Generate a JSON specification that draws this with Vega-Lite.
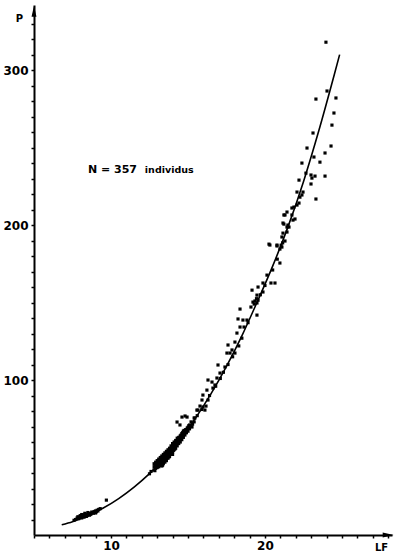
{
  "$schema": "https://vega.github.io/schema/vega-lite/v6.json",
  "width": 358,
  "height": 530,
  "autosize": {"type": "none"},
  "padding": {"left": 34, "top": 5, "right": 8, "bottom": 17},
  "background": "white",
  "config": {"view": {"stroke": null}, "font": "DejaVu Sans"},
  "datasets": {
    "pts": [
      {"LF":7.6,"P":9.5},{"LF":7.7,"P":10},{"LF":7.8,"P":11},{"LF":7.9,"P":10.5},{"LF":8.0,"P":11.5},{"LF":8.0,"P":12.5},{"LF":8.1,"P":11},{"LF":8.2,"P":12},{"LF":8.2,"P":13},{"LF":8.3,"P":12.5},{"LF":8.4,"P":13.5},{"LF":8.4,"P":12},{"LF":8.5,"P":13},{"LF":8.6,"P":14},{"LF":8.6,"P":12.8},{"LF":8.7,"P":13.5},{"LF":8.8,"P":14.5},{"LF":8.9,"P":15},{"LF":9.0,"P":15.5},{"LF":9.0,"P":14.2},{"LF":9.1,"P":16},{"LF":9.2,"P":16.5},{"LF":9.3,"P":17},{"LF":9.7,"P":22.5},
      {"LF":7.85,"P":11.8},{"LF":8.05,"P":12},{"LF":8.15,"P":12.8},{"LF":8.25,"P":11.5},{"LF":8.35,"P":13},{"LF":8.45,"P":12.5},{"LF":8.55,"P":13.8},{"LF":8.65,"P":13.2},{"LF":8.75,"P":14.8},{"LF":8.85,"P":14},{"LF":8.95,"P":15.2},{"LF":9.05,"P":15},{"LF":9.15,"P":15.5},{"LF":8.3,"P":14},{"LF":8.5,"P":14.5},{"LF":8.1,"P":13.2},
      {"LF":12.5,"P":39.5},{"LF":12.6,"P":41},
      {"LF":12.8,"P":42},{"LF":12.8,"P":44},{"LF":12.8,"P":46},
      {"LF":12.9,"P":43},{"LF":12.9,"P":45.5},{"LF":12.9,"P":47},
      {"LF":13.0,"P":43.5},{"LF":13.0,"P":45},{"LF":13.0,"P":46.5},{"LF":13.0,"P":48},
      {"LF":13.1,"P":44},{"LF":13.1,"P":46},{"LF":13.1,"P":47.5},{"LF":13.1,"P":49},
      {"LF":13.2,"P":45},{"LF":13.2,"P":46.5},{"LF":13.2,"P":48},{"LF":13.2,"P":50},
      {"LF":13.3,"P":44.5},{"LF":13.3,"P":46},{"LF":13.3,"P":47.5},{"LF":13.3,"P":49},{"LF":13.3,"P":51},
      {"LF":13.4,"P":46},{"LF":13.4,"P":47},{"LF":13.4,"P":48.5},{"LF":13.4,"P":50},{"LF":13.4,"P":52},
      {"LF":13.5,"P":47},{"LF":13.5,"P":48},{"LF":13.5,"P":49.5},{"LF":13.5,"P":51},{"LF":13.5,"P":53},
      {"LF":13.6,"P":48},{"LF":13.6,"P":49},{"LF":13.6,"P":51},{"LF":13.6,"P":52.5},{"LF":13.6,"P":54},
      {"LF":13.7,"P":49.5},{"LF":13.7,"P":50},{"LF":13.7,"P":52},{"LF":13.7,"P":53.5},{"LF":13.7,"P":55},
      {"LF":13.8,"P":50.5},{"LF":13.8,"P":51},{"LF":13.8,"P":53},{"LF":13.8,"P":54.5},{"LF":13.8,"P":56},
      {"LF":13.9,"P":52.5},{"LF":13.9,"P":54},{"LF":13.9,"P":56},{"LF":13.9,"P":57.5},
      {"LF":14.0,"P":52},{"LF":14.0,"P":53.5},{"LF":14.0,"P":55.5},{"LF":14.0,"P":57},{"LF":14.0,"P":59},
      {"LF":14.1,"P":55},{"LF":14.1,"P":56.5},{"LF":14.1,"P":58},{"LF":14.1,"P":60},
      {"LF":14.2,"P":56},{"LF":14.2,"P":58},{"LF":14.2,"P":59.5},{"LF":14.2,"P":61},
      {"LF":14.3,"P":57.5},{"LF":14.3,"P":59},{"LF":14.3,"P":61},{"LF":14.3,"P":62.5},
      {"LF":14.4,"P":59},{"LF":14.4,"P":61},{"LF":14.4,"P":63},
      {"LF":14.5,"P":60},{"LF":14.5,"P":62},{"LF":14.5,"P":64},
      {"LF":14.6,"P":61.5},{"LF":14.6,"P":63.5},{"LF":14.6,"P":65.5},
      {"LF":14.7,"P":63},{"LF":14.7,"P":65},{"LF":14.7,"P":67},
      {"LF":14.8,"P":64.5},{"LF":14.8,"P":66.5},
      {"LF":14.9,"P":66},{"LF":14.9,"P":68},
      {"LF":15.0,"P":67},{"LF":15.0,"P":69.5},
      {"LF":15.1,"P":68.5},{"LF":15.1,"P":71},
      {"LF":15.2,"P":70},{"LF":15.2,"P":73},
      {"LF":15.3,"P":71.5},
      {"LF":15.4,"P":73},{"LF":15.4,"P":75.5},
      {"LF":13.35,"P":45},{"LF":13.65,"P":53},{"LF":13.95,"P":55},{"LF":14.05,"P":58},{"LF":13.45,"P":51.5},{"LF":13.25,"P":48.5},{"LF":13.75,"P":51.5},{"LF":14.15,"P":57},
      {"LF":12.85,"P":41.5},{"LF":12.85,"P":44.5},{"LF":12.95,"P":44},{"LF":12.95,"P":46.5},{"LF":13.05,"P":44.5},{"LF":13.05,"P":47},{"LF":13.15,"P":45},{"LF":13.15,"P":48.5},{"LF":13.25,"P":46},{"LF":13.25,"P":50},{"LF":13.35,"P":47.5},{"LF":13.35,"P":49.5},{"LF":13.45,"P":48},{"LF":13.45,"P":49.5},{"LF":13.55,"P":50},{"LF":13.55,"P":52},{"LF":13.65,"P":50.5},{"LF":13.65,"P":51.5},{"LF":13.75,"P":53},{"LF":13.75,"P":54.5},{"LF":13.85,"P":52},{"LF":13.85,"P":55},{"LF":13.95,"P":53.5},{"LF":13.95,"P":57},{"LF":14.05,"P":54.5},{"LF":14.05,"P":56.5},{"LF":14.15,"P":55.5},{"LF":14.15,"P":59.5},{"LF":14.25,"P":58},{"LF":14.25,"P":60},{"LF":14.35,"P":59.5},{"LF":14.35,"P":62},{"LF":14.45,"P":61.5},{"LF":14.45,"P":63},{"LF":14.55,"P":62},{"LF":14.55,"P":64.5},{"LF":14.65,"P":64},{"LF":14.65,"P":66},{"LF":14.75,"P":65.5},{"LF":14.75,"P":67.5},{"LF":14.85,"P":66},{"LF":14.85,"P":68},{"LF":14.95,"P":67.5},{"LF":14.95,"P":69},{"LF":15.05,"P":69},{"LF":15.05,"P":70.5},
      {"LF":14.29,"P":72.9},{"LF":14.61,"P":76.1},{"LF":14.81,"P":76.8},{"LF":14.48,"P":71},{"LF":15.26,"P":69.7},{"LF":15.65,"P":80.6},{"LF":15.97,"P":82.6},
      {"LF":18.18,"P":130.3},{"LF":18.05,"P":124.5},{"LF":17.6,"P":122.6},{"LF":17.86,"P":119.4},{"LF":17.73,"P":117.4},{"LF":17.53,"P":117.4},{"LF":18.05,"P":117.4},{"LF":16.95,"P":109.7},{"LF":17.4,"P":108.4},{"LF":17.08,"P":104.5},{"LF":16.88,"P":101.3},{"LF":16.3,"P":100},{"LF":16.56,"P":98.7},{"LF":16.75,"P":96.8},{"LF":16.23,"P":93.5},{"LF":16.62,"P":94.8},{"LF":15.97,"P":90.3},{"LF":15.91,"P":87.1},{"LF":16.3,"P":87.1},{"LF":15.78,"P":83.2},{"LF":16.17,"P":83.2},{"LF":15.58,"P":80.6},{"LF":16.1,"P":80.6},{"LF":14.94,"P":76.1},{"LF":15.45,"P":75.5},
      {"LF":15.6,"P":77},{"LF":15.9,"P":81},{"LF":16.4,"P":90},{"LF":16.8,"P":96},{"LF":17.1,"P":101},{"LF":17.3,"P":105},{"LF":17.6,"P":110},{"LF":17.9,"P":115},{"LF":18.3,"P":122},{"LF":18.5,"P":127},
      {"LF":20.26,"P":187.7},{"LF":20.78,"P":186.5},{"LF":20.97,"P":175.5},{"LF":20.13,"P":167.7},{"LF":19.87,"P":162.6},{"LF":20.39,"P":162.6},{"LF":20.65,"P":162.6},{"LF":19.55,"P":160},{"LF":19.16,"P":158},{"LF":19.87,"P":156.8},{"LF":19.48,"P":154.8},{"LF":19.22,"P":150.3},{"LF":19.48,"P":149.7},{"LF":19.09,"P":147.1},{"LF":18.38,"P":145.8},{"LF":19.48,"P":141.9},{"LF":18.25,"P":139.4},{"LF":18.57,"P":138.7},{"LF":18.83,"P":138.7},{"LF":18.38,"P":134.2},{"LF":18.64,"P":134.2},
      {"LF":19.35,"P":151},{"LF":19.45,"P":152.5},{"LF":19.3,"P":149},{"LF":19.55,"P":151.5},{"LF":18.9,"P":137},{"LF":19.7,"P":155},{"LF":20.0,"P":161},{"LF":20.5,"P":171},{"LF":20.8,"P":178},
      {"LF":21.3,"P":206.5},{"LF":21.75,"P":206.5},{"LF":21.82,"P":203.2},{"LF":21.23,"P":200.6},{"LF":21.49,"P":200},{"LF":21.43,"P":195.5},{"LF":21.17,"P":194.8},{"LF":21.1,"P":192.3},{"LF":21.3,"P":189.7},{"LF":20.78,"P":187.1},{"LF":20.32,"P":187.1},{"LF":21.1,"P":185.8},{"LF":20.97,"P":184.5},
      {"LF":21.05,"P":187},{"LF":21.15,"P":188.5},
      {"LF":23.96,"P":318},{"LF":24.03,"P":286.5},{"LF":23.31,"P":281.3},{"LF":24.61,"P":282},{"LF":24.48,"P":272.3},{"LF":24.35,"P":264.5},{"LF":23.12,"P":259.4},{"LF":24.29,"P":251},{"LF":22.73,"P":249.7},{"LF":23.9,"P":246.5},{"LF":23.18,"P":243.9},{"LF":23.57,"P":240.6},{"LF":22.4,"P":240},{"LF":22.66,"P":233.5},{"LF":22.99,"P":232.3},{"LF":23.25,"P":231.6},{"LF":23.9,"P":231.6},{"LF":23.05,"P":230.3},{"LF":22.21,"P":229},{"LF":22.99,"P":226.5},{"LF":22.47,"P":221.3},{"LF":22.08,"P":221.3},{"LF":22.4,"P":219.4},{"LF":22.27,"P":218},{"LF":23.31,"P":216.8},{"LF":22.21,"P":214.2},{"LF":22.08,"P":212.9},{"LF":21.88,"P":211.6},{"LF":21.75,"P":211},{"LF":21.43,"P":208.4},{"LF":21.23,"P":206.5},{"LF":21.95,"P":203.9},{"LF":21.17,"P":201.3},{"LF":21.43,"P":198.7},{"LF":21.56,"P":198.7}
    ],
    "curve": [
      {"LF":6.8,"P":6.6},{"LF":7.5,"P":8.6},{"LF":8.5,"P":12.5},{"LF":9.5,"P":17.4},{"LF":10.5,"P":23.5},{"LF":11.5,"P":30.9},{"LF":12.5,"P":39.6},{"LF":13.5,"P":49.9},{"LF":14.5,"P":61.9},{"LF":15.5,"P":75.6},{"LF":16.5,"P":91.2},{"LF":17.5,"P":108.8},{"LF":18.5,"P":128.5},{"LF":19.5,"P":150.5},{"LF":20.5,"P":173.5},{"LF":21.5,"P":199},{"LF":22.5,"P":228},{"LF":23.5,"P":261},{"LF":24.5,"P":297},{"LF":24.85,"P":310}
    ],
    "arrowY": [{"LF":5,"P":338}],
    "arrowX": [{"LF":28.0,"P":0}],
    "noteN": [{"LF":8.5,"P":233.6,"label":"N = 357"}],
    "noteI": [{"LF":12.2,"P":233.6,"label":"individus"}]
  },
  "layer": [
    {
      "data": {"name": "pts"},
      "mark": {"type": "square", "filled": true, "color": "black", "size": 10, "opacity": 1},
      "encoding": {
        "x": {
          "field": "LF", "type": "quantitative",
          "scale": {"domain": [5, 28.25], "nice": false, "zero": false},
          "axis": {
            "values": [5,6,7,8,9,10,11,12,13,14,15,16,17,18,19,20,21,22,23,24,25,26,27,28],
            "tickCount": 100,
            "format": "d",
            "labelExpr": "datum.value == 10 || datum.value == 20 ? datum.label : ''",
            "labelOverlap": false,
            "labelFlush": false,
            "grid": false,
            "domainColor": "black", "domainWidth": 2,
            "tickColor": "black", "tickSize": 3, "tickWidth": 1.5,
            "labelColor": "black", "labelFont": "DejaVu Sans", "labelFontWeight": "bold", "labelFontSize": 12,
            "labelPadding": 2,
            "title": "LF", "titleFont": "DejaVu Sans", "titleFontWeight": "bold", "titleFontSize": 10, "titleColor": "black",
            "titleX": 347, "titleY": 15, "titleAlign": "center", "titleBaseline": "alphabetic"
          }
        },
        "y": {
          "field": "P", "type": "quantitative",
          "scale": {"domain": [0, 342], "nice": false, "zero": false},
          "axis": {
            "values": [10,20,30,40,50,60,70,80,90,100,110,120,130,140,150,160,170,180,190,200,210,220,230,240,250,260,270,280,290,300,310,320,330],
            "tickCount": 100,
            "format": "d",
            "labelExpr": "datum.value % 100 == 0 ? datum.label : ''",
            "labelOverlap": false,
            "labelFlush": false,
            "grid": false,
            "domainColor": "black", "domainWidth": 2,
            "tickColor": "black", "tickSize": 3, "tickWidth": 1.5,
            "labelColor": "black", "labelFont": "DejaVu Sans", "labelFontWeight": "bold", "labelFontSize": 12,
            "labelPadding": 3,
            "title": "P", "titleFont": "DejaVu Sans", "titleFontWeight": "bold", "titleFontSize": 10, "titleColor": "black",
            "titleAngle": 0, "titleX": -15, "titleY": 16, "titleAlign": "center", "titleBaseline": "alphabetic"
          }
        }
      }
    },
    {
      "data": {"name": "curve"},
      "mark": {"type": "line", "color": "black", "strokeWidth": 1.6, "interpolate": "monotone"},
      "encoding": {
        "x": {"field": "LF", "type": "quantitative"},
        "y": {"field": "P", "type": "quantitative"}
      }
    },
    {
      "data": {"name": "arrowY"},
      "mark": {"type": "point", "shape": "M0,-1L0.45,1L-0.45,1Z", "filled": true, "color": "black", "size": 120, "opacity": 1},
      "encoding": {
        "x": {"field": "LF", "type": "quantitative"},
        "y": {"field": "P", "type": "quantitative"}
      }
    },
    {
      "data": {"name": "arrowX"},
      "mark": {"type": "point", "shape": "M1,0L-1,-0.45L-1,0.45Z", "filled": true, "color": "black", "size": 120, "opacity": 1},
      "encoding": {
        "x": {"field": "LF", "type": "quantitative"},
        "y": {"field": "P", "type": "quantitative"}
      }
    },
    {
      "data": {"name": "noteN"},
      "mark": {"type": "text", "align": "left", "baseline": "alphabetic", "font": "DejaVu Sans", "fontWeight": "bold", "fontSize": 11, "color": "black"},
      "encoding": {
        "x": {"field": "LF", "type": "quantitative"},
        "y": {"field": "P", "type": "quantitative"},
        "text": {"field": "label"}
      }
    },
    {
      "data": {"name": "noteI"},
      "mark": {"type": "text", "align": "left", "baseline": "alphabetic", "font": "DejaVu Sans", "fontWeight": "bold", "fontSize": 9.5, "color": "black"},
      "encoding": {
        "x": {"field": "LF", "type": "quantitative"},
        "y": {"field": "P", "type": "quantitative"},
        "text": {"field": "label"}
      }
    }
  ]
}
